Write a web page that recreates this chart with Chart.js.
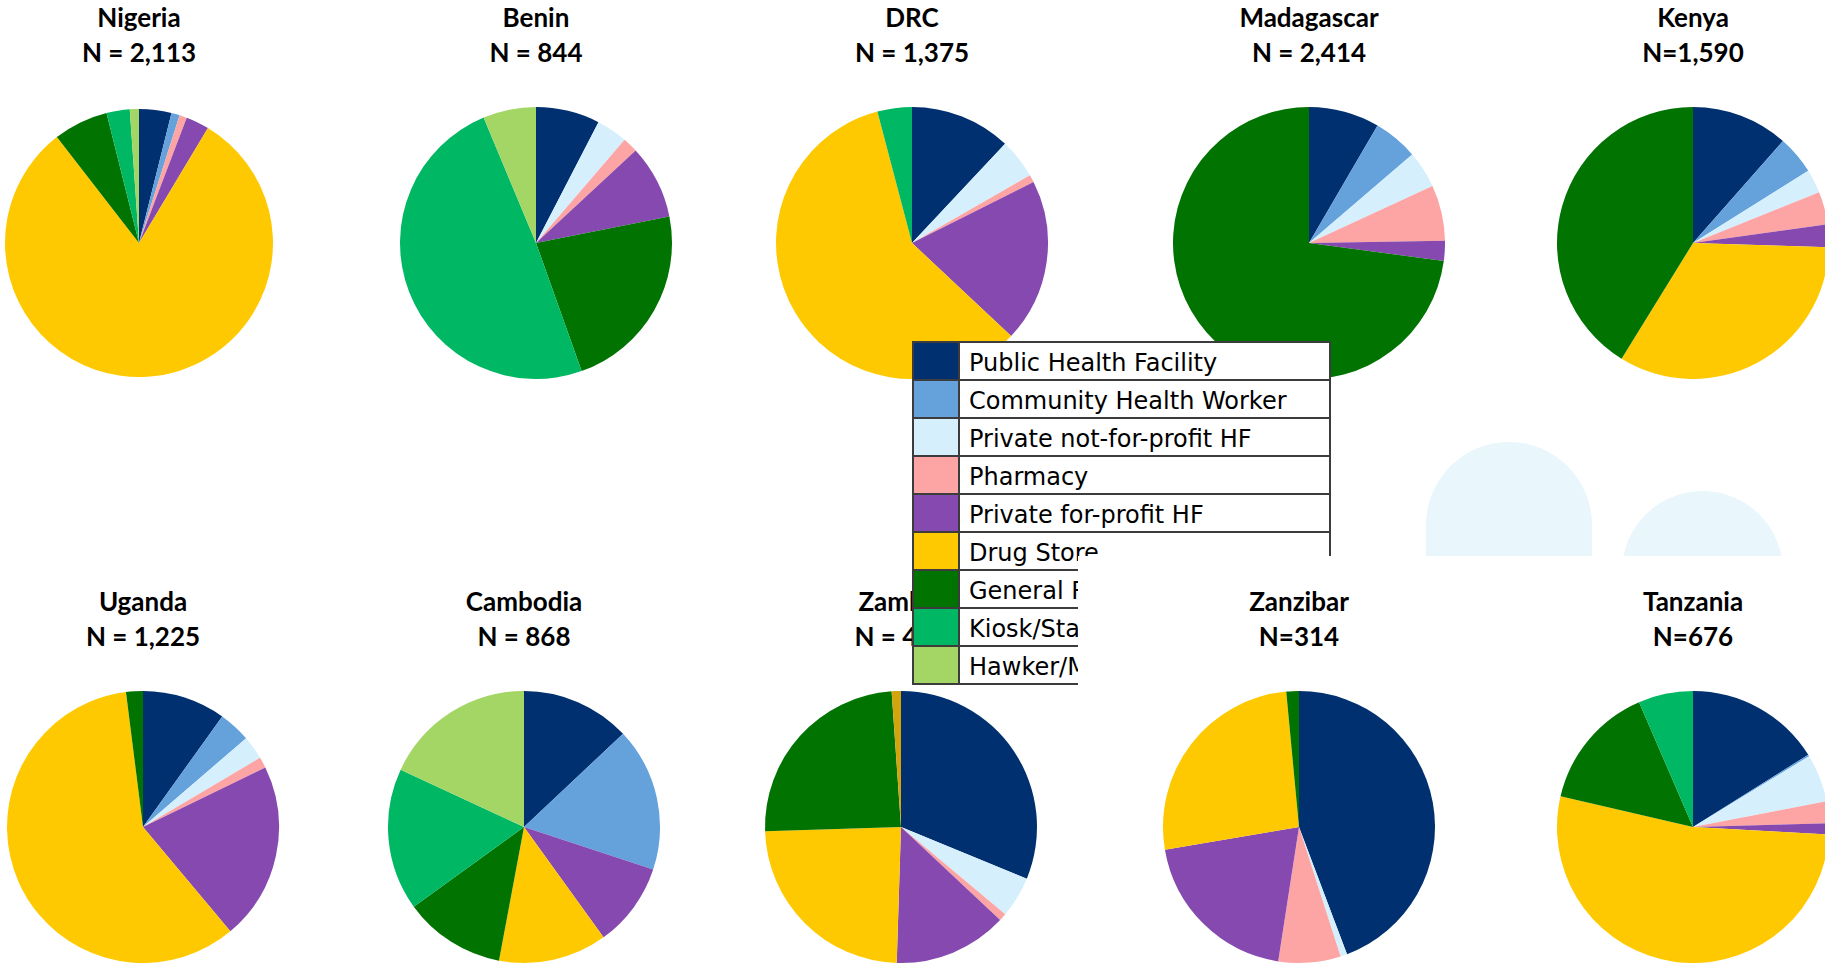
<!DOCTYPE html>
<html>
<head>
<meta charset="utf-8">
<script src="https://cdn.jsdelivr.net/npm/chart.js@4/dist/chart.umd.min.js"></script>
<style>
  html, body { margin: 0; padding: 0; background: #fff; }
  body { width: 1825px; height: 966px; overflow: hidden; position: relative; }
  .pie { position: absolute; z-index: 1; }
  .deco { position: absolute; background: #e9f6fb; z-index: 2; }
  .title {
    position: absolute; z-index: 5; transform: translateX(-50%);
    font-family: Lato, "Open Sans", sans-serif; font-weight: 700; font-size: 26px;
    line-height: 35px; text-align: center; white-space: nowrap; color: #000;
  }
  .title.under { z-index: 2; }
  #legend {
    position: absolute; left: 912px; top: 341px; z-index: 3;
    border-collapse: collapse; border: 2px solid #111; background: #fff;
    font-family: "DejaVu Sans", Verdana, sans-serif; font-size: 24px;
  }
  #legend td { border: 2px solid #3c3c3c; height: 36px; padding: 0; }
  #legend td.sw { width: 44px; }
  #legend td.lab { width: 360px; padding-left: 9px; line-height: 36px; white-space: nowrap; }
  #legend td.lab span { position: relative; top: 2px; }
  #mask { position: absolute; left: 1078px; top: 556px; width: 760px; height: 132px; background: #fff; z-index: 4; }
</style>
</head>
<body>
<div class="deco" style="left:1426px;top:442px;width:166px;height:114px;border-radius:83px 83px 0 0;"></div>
<div class="deco" style="left:1622px;top:491px;width:161px;height:161px;border-radius:50%;"></div>
<table id="legend"></table>
<div id="mask"></div>
<script>
// categories (legend order) plus one unlabelled slice seen only in Zambia
var categories = ['Public Health Facility', 'Community Health Worker', 'Private not-for-profit HF',
  'Pharmacy', 'Private for-profit HF', 'Drug Store', 'General Retailer', 'Kiosk/Stall', 'Hawker/Mobile vendor'];
var otherLabel = 'Other';

var countries = ['Nigeria', 'Benin', 'DRC', 'Madagascar', 'Kenya',
  'Uganda', 'Cambodia', 'Zambia', 'Zanzibar', 'Tanzania'];
var sampleSizes = ['N = 2,113', 'N = 844', 'N = 1,375', 'N = 2,414', 'N=1,590',
  'N = 1,225', 'N = 868', 'N = 427', 'N=314', 'N=676'];

// percent of outlets per category, same order as categories, last = other
var nigeria    = [3.9, 1.0, 0, 0.9, 2.8, 80.9, 6.6, 2.8, 1.1, 0];
var benin      = [7.6, 0, 3.7, 1.8, 8.8, 0, 22.7, 49.2, 6.3, 0];
var drc        = [12.0, 0, 4.7, 0.9, 19.4, 58.9, 0, 4.1, 0, 0];
var madagascar = [8.4, 5.3, 4.4, 6.6, 2.4, 0, 72.8, 0, 0, 0];
var kenya      = [11.5, 4.6, 2.8, 3.9, 2.7, 33.3, 41.2, 0, 0, 0];
var uganda     = [9.9, 3.8, 2.8, 1.3, 21.1, 59.1, 2.0, 0, 0, 0];
var cambodia   = [13.0, 17.1, 0, 0, 10.0, 12.9, 12.1, 16.9, 18.1, 0];
var zambia     = [31.2, 0, 4.9, 0.9, 13.5, 24.0, 24.4, 0, 0, 1.1];
var zanzibar   = [44.3, 0, 0.8, 7.4, 19.9, 26.2, 1.5, 0, 0, 0];
var tanzania   = [16.1, 0.2, 5.7, 2.6, 1.3, 52.8, 14.9, 6.5, 0, 0];

var seriesList = [nigeria, benin, drc, madagascar, kenya, uganda, cambodia, zambia, zanzibar, tanzania];

var colors = ['#00306f', '#65a2dc', '#d5effd', '#fda5a5', '#8549af',
  '#ffc901', '#017301', '#00b864', '#a3d665', '#d4a40c'];

// page slots: pie centre and radius
var slots = [
  {x: 139, y: 243, r: 134}, {x: 536, y: 243, r: 136}, {x: 912, y: 243, r: 136},
  {x: 1309, y: 243, r: 136}, {x: 1693, y: 243, r: 136},
  {x: 143, y: 827, r: 136}, {x: 524, y: 827, r: 136}, {x: 901, y: 827, r: 136},
  {x: 1299, y: 827, r: 136}, {x: 1693, y: 827, r: 136}
];

var legend = document.getElementById('legend');
categories.forEach(function(name, i) {
  var tr = document.createElement('tr');
  tr.innerHTML = '<td class="sw" style="background:' + colors[i] + '"></td>' +
    '<td class="lab"><span>' + name + '</span></td>';
  legend.appendChild(tr);
});

var labels = categories.concat([otherLabel]);

seriesList.forEach(function(values, i) {
  var s = slots[i];
  var size = 2 * s.r + 4;
  var box = document.createElement('div');
  box.className = 'pie';
  box.style.left = (s.x - size / 2) + 'px';
  box.style.top = (s.y - size / 2) + 'px';
  var canvas = document.createElement('canvas');
  canvas.width = size;
  canvas.height = size;
  box.appendChild(canvas);
  document.body.appendChild(box);

  new Chart(canvas.getContext('2d'), {
    type: 'pie',
    data: {
      labels: labels,
      datasets: [{data: values, backgroundColor: colors, borderWidth: 0, hoverOffset: 0}]
    },
    options: {
      responsive: false,
      animation: false,
      events: [],
      radius: s.r,
      plugins: {legend: {display: false}, tooltip: {enabled: false}}
    }
  });

  var t = document.createElement('div');
  t.className = 'title' + (countries[i] == 'Zambia' ? ' under' : '');
  t.style.left = s.x + 'px';
  t.style.top = (i < 5 ? 0 : 584) + 'px';
  t.innerHTML = countries[i] + '<br>' + sampleSizes[i];
  document.body.appendChild(t);
});
</script>
</body>
</html>
